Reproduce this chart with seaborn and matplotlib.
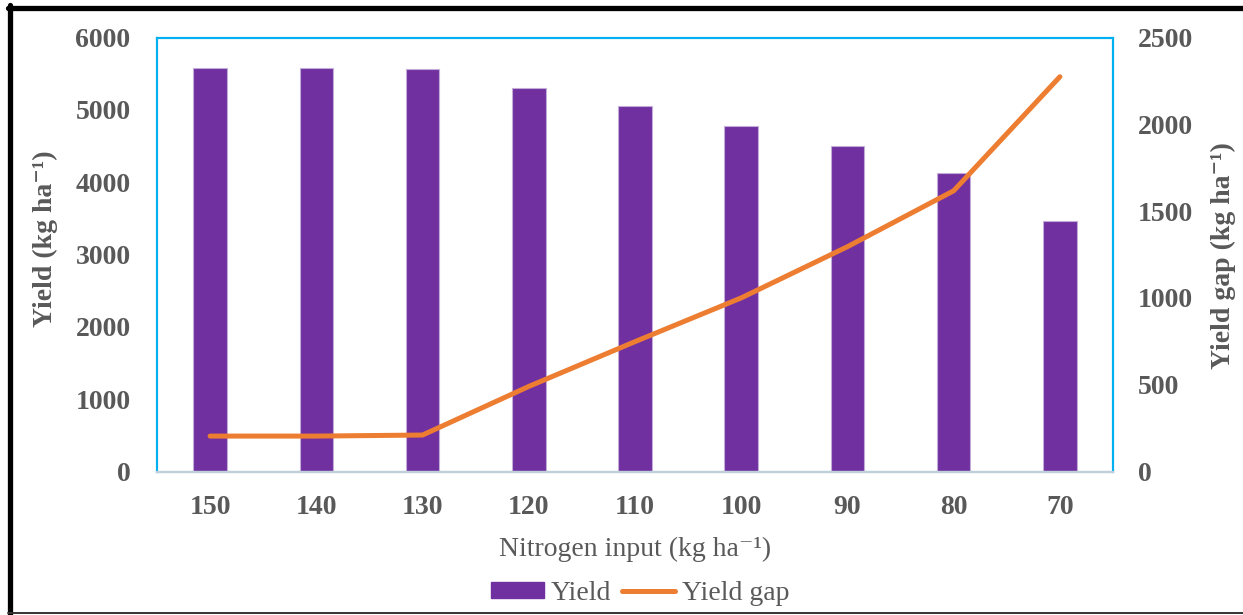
import matplotlib
matplotlib.use("Agg")
import matplotlib.pyplot as plt
from matplotlib.lines import Line2D
from matplotlib.patches import Patch
import numpy as np
import pandas as pd
import seaborn as sns

# Nitrogen rates (kg/ha) and the resulting yield and yield gap
nitrogen = ["150", "140", "130", "120", "110", "100", "90", "80", "70"]
yield_kg = [5582, 5582, 5569, 5302, 5053, 4776, 4504, 4122, 3467]
yield_gap = [204, 204, 210, 490, 748, 1000, 1295, 1617, 2274]

left_ticks = [0, 1000, 2000, 3000, 4000, 5000, 6000]
right_ticks = [0, 500, 1000, 1500, 2000, 2500]

df = pd.DataFrame({"nitrogen": nitrogen, "yield": yield_kg, "gap": yield_gap})

sns.set_theme(style="white")
plt.rcParams["font.family"] = ["Liberation Serif", "DejaVu Serif"]

TEXT = "#595959"
PURPLE = "#7030A0"
ORANGE = "#ED7D31"
CYAN = "#00B0F0"

W, H = 1243, 615
fig = plt.figure(figsize=(W / 100, H / 100), dpi=100)
ax = fig.add_axes([157 / W, 1 - 471.5 / H, (1113 - 157) / W, (471.5 - 37.5) / H])

sns.barplot(data=df, x="nitrogen", y="yield", order=nitrogen, color=PURPLE,
            saturation=1, width=0.315, edgecolor="#C4ACD8", linewidth=0.8, ax=ax)

ax2 = ax.twinx()
sns.pointplot(data=df, x="nitrogen", y="gap", order=nitrogen, color=ORANGE,
              markers="", errorbar=None, linewidth=3.6, ax=ax2)
for ln in ax2.lines:
    ln.set_solid_capstyle("round")
    ln.set_solid_joinstyle("round")

ax.set_xlim(-0.5, len(nitrogen) - 0.5)
ax2.set_xlim(-0.5, len(nitrogen) - 0.5)
ax.set_ylim(0, 6000)
ax2.set_ylim(0, 2500)
ax.set_yticks(left_ticks)
ax2.set_yticks(right_ticks)
ax.set_xticks(range(len(nitrogen)))
ax.set_xticklabels(nitrogen)

for a in (ax, ax2):
    a.set_xlabel("")
    a.set_ylabel("")
    a.grid(False)
    a.tick_params(length=0, colors=TEXT, labelsize=20)
    for lab in a.get_xticklabels() + a.get_yticklabels():
        lab.set_fontweight("bold")
        lab.set_color(TEXT)
    for side in ("left", "top", "right"):
        a.spines[side].set_color(CYAN)
        a.spines[side].set_linewidth(1.5)
    a.spines["bottom"].set_color("#BFD0DA")
    a.spines["bottom"].set_linewidth(1.6)

ax.tick_params(axis="y", pad=19)
ax.tick_params(axis="x", pad=17)
ax2.tick_params(axis="y", pad=18)
ax.set_facecolor("white")
ax2.patch.set_visible(False)

fig.text(45 / W, 1 - 239 / H, "Yield (kg ha\u207b\u00b9)", rotation=90,
         ha="center", va="center", fontsize=20, fontweight="bold", color=TEXT)
fig.text(1223 / W, 1 - 256 / H, "Yield gap (kg ha\u207b\u00b9)", rotation=90,
         ha="center", va="center", fontsize=20, fontweight="bold", color=TEXT)
fig.text(635 / W, 1 - 549 / H, "Nitrogen input (kg ha\u207b\u00b9)", ha="center",
         va="center", fontsize=20, color=TEXT)

handles = [Patch(facecolor=PURPLE, edgecolor=PURPLE),
           Line2D([0], [0], color=ORANGE, lw=3.6, solid_capstyle="round")]
leg = fig.legend(handles, ["Yield", "Yield gap"], loc="center",
                 bbox_to_anchor=(640 / W, 1 - 593 / H), ncol=2, frameon=False,
                 fontsize=20, handlelength=1.9, handleheight=0.5,
                 handletextpad=0.25, columnspacing=0.4, borderpad=0)
for t in leg.get_texts():
    t.set_color(TEXT)

# outer frame of the figure
fig.add_artist(Line2D([10 / W, 10 / W], [0, 1 - 5 / H], color="black", lw=3.8,
                      transform=fig.transFigure))
fig.add_artist(Line2D([8 / W, 1], [1 - 7.5 / H, 1 - 7.5 / H], color="black",
                      lw=3.8, transform=fig.transFigure))
fig.add_artist(Line2D([8 / W, 1], [1 - 613 / H, 1 - 613 / H], color="#333333",
                      lw=1.4, transform=fig.transFigure))

fig.savefig("out.png", dpi=100, facecolor="white")
